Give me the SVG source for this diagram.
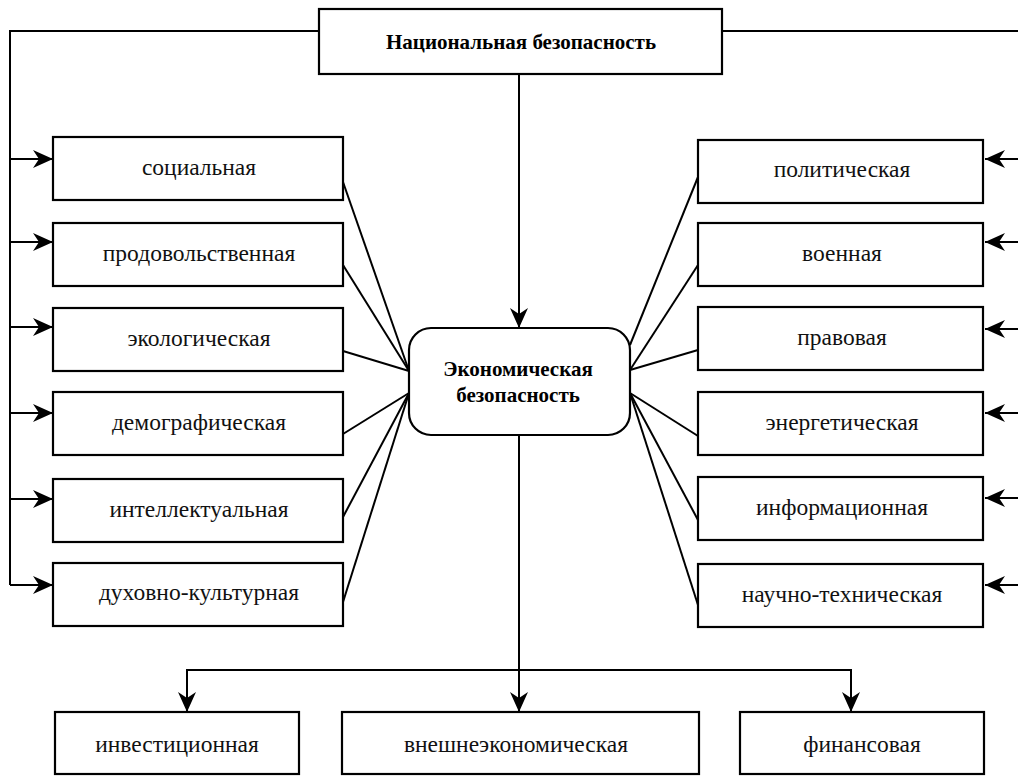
<svg xmlns="http://www.w3.org/2000/svg" width="1018" height="776" viewBox="0 0 1018 776">
<style>
.box{fill:#fff;stroke:#000;stroke-width:2.2}
.ln{fill:none;stroke:#000;stroke-width:2}
text{font-family:'Liberation Serif','Times New Roman',Times,'DejaVu Serif',serif}
.t{font-size:23.5px;fill:#111;text-anchor:middle}
.b{font-size:21px;font-weight:bold;fill:#000;text-anchor:middle}
</style>
<defs>
<marker id="ah" markerUnits="userSpaceOnUse" markerWidth="24" markerHeight="22" viewBox="-1 -11 24 22" refX="20" refY="0" orient="auto">
<path d="M0,-9 L20,0 L0,9 L6,0 Z" fill="#000"/>
</marker>
</defs>
<rect width="1018" height="776" fill="#fff"/>
<g id="connectors">
<polyline class="ln" points="319,31 10,31 10,585"/>
<line class="ln" x1="722" y1="31" x2="1018" y2="31"/>
<line class="ln" x1="10" y1="159" x2="53" y2="159" marker-end="url(#ah)"/>
<line class="ln" x1="10" y1="242" x2="53" y2="242" marker-end="url(#ah)"/>
<line class="ln" x1="10" y1="327" x2="53" y2="327" marker-end="url(#ah)"/>
<line class="ln" x1="10" y1="413" x2="53" y2="413" marker-end="url(#ah)"/>
<line class="ln" x1="10" y1="499" x2="53" y2="499" marker-end="url(#ah)"/>
<line class="ln" x1="10" y1="585" x2="53" y2="585" marker-end="url(#ah)"/>
<line class="ln" x1="1018" y1="159" x2="985" y2="159" marker-end="url(#ah)"/>
<line class="ln" x1="1018" y1="242" x2="985" y2="242" marker-end="url(#ah)"/>
<line class="ln" x1="1018" y1="329" x2="985" y2="329" marker-end="url(#ah)"/>
<line class="ln" x1="1018" y1="413" x2="985" y2="413" marker-end="url(#ah)"/>
<line class="ln" x1="1018" y1="498" x2="985" y2="498" marker-end="url(#ah)"/>
<line class="ln" x1="1018" y1="585" x2="985" y2="585" marker-end="url(#ah)"/>
<line class="ln" x1="519" y1="74" x2="519" y2="328" marker-end="url(#ah)"/>
<line class="ln" x1="343" y1="182" x2="409" y2="371"/>
<line class="ln" x1="343" y1="265" x2="409" y2="371"/>
<line class="ln" x1="343" y1="351" x2="409" y2="371"/>
<line class="ln" x1="343" y1="434" x2="409" y2="393"/>
<line class="ln" x1="343" y1="517" x2="409" y2="393"/>
<line class="ln" x1="343" y1="602" x2="409" y2="393"/>
<line class="ln" x1="698" y1="177" x2="630" y2="345"/>
<line class="ln" x1="698" y1="265" x2="630" y2="370"/>
<line class="ln" x1="698" y1="350" x2="630" y2="370"/>
<line class="ln" x1="698" y1="436" x2="630" y2="393"/>
<line class="ln" x1="698" y1="520" x2="630" y2="393"/>
<line class="ln" x1="698" y1="605" x2="630" y2="393"/>
<line class="ln" x1="519" y1="435" x2="519" y2="712" marker-end="url(#ah)"/>
<polyline class="ln" points="187,712 187,670 851,670 851,712"/>
<line class="ln" x1="187" y1="690" x2="187" y2="712" marker-end="url(#ah)"/>
<line class="ln" x1="851" y1="690" x2="851" y2="712" marker-end="url(#ah)"/>
</g>
<g id="n-national"><rect class="box" x="319" y="9" width="403" height="65"/><text class="b" x="521" y="49">Национальная безопасность</text></g>
<g id="n-economic"><rect class="box" x="409" y="328" width="221" height="107" rx="22" ry="22"/><text class="b" x="518" y="376">Экономическая</text><text class="b" x="518" y="402">безопасность</text></g>
<g id="n-social"><rect class="box" x="53" y="137" width="290" height="63"/><text class="t" x="199" y="175">социальная</text></g>
<g id="n-food"><rect class="box" x="53" y="223" width="290" height="63"/><text class="t" x="199" y="261">продовольственная</text></g>
<g id="n-eco"><rect class="box" x="53" y="308" width="290" height="63"/><text class="t" x="199" y="346">экологическая</text></g>
<g id="n-demo"><rect class="box" x="53" y="392" width="290" height="63"/><text class="t" x="199" y="430">демографическая</text></g>
<g id="n-intel"><rect class="box" x="53" y="479" width="290" height="63"/><text class="t" x="199" y="517">интеллектуальная</text></g>
<g id="n-spirit"><rect class="box" x="53" y="563" width="290" height="63"/><text class="t" x="199" y="600">духовно-культурная</text></g>
<g id="n-polit"><rect class="box" x="698" y="140" width="285" height="63"/><text class="t" x="842" y="177">политическая</text></g>
<g id="n-mil"><rect class="box" x="698" y="223" width="285" height="63"/><text class="t" x="842" y="261">военная</text></g>
<g id="n-law"><rect class="box" x="698" y="307" width="285" height="63"/><text class="t" x="842" y="345">правовая</text></g>
<g id="n-energy"><rect class="box" x="698" y="392" width="285" height="63"/><text class="t" x="842" y="430">энергетическая</text></g>
<g id="n-info"><rect class="box" x="698" y="477" width="285" height="63"/><text class="t" x="842" y="515">информационная</text></g>
<g id="n-sci"><rect class="box" x="698" y="564" width="285" height="63"/><text class="t" x="842" y="602">научно-техническая</text></g>
<g id="n-invest"><rect class="box" x="55" y="712" width="244" height="62"/><text class="t" x="177" y="752">инвестиционная</text></g>
<g id="n-foreign"><rect class="box" x="342" y="712" width="357" height="62"/><text class="t" x="516" y="752">внешнеэкономическая</text></g>
<g id="n-fin"><rect class="box" x="740" y="712" width="244" height="62"/><text class="t" x="862" y="752">финансовая</text></g>
</svg>
